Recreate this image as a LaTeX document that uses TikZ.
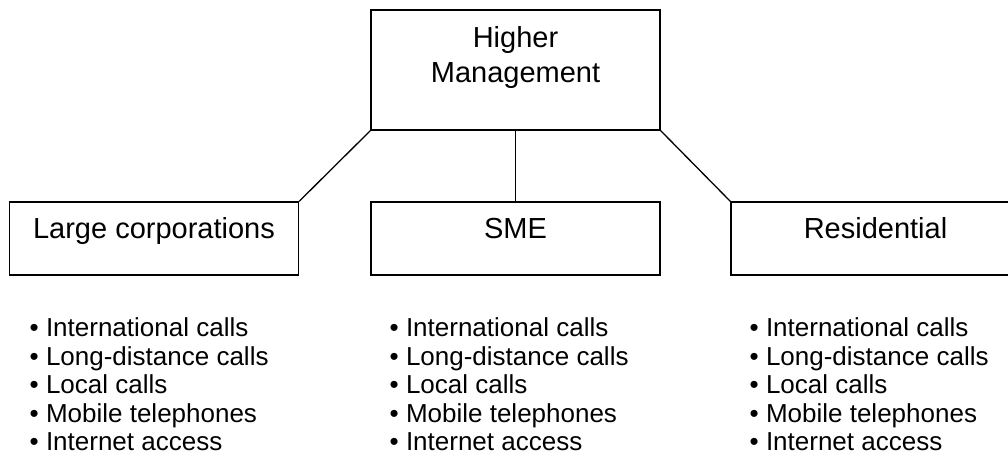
\documentclass[tikz,border=0pt]{standalone}
\usepackage{fontspec}
\setmainfont{Liberation Sans}
\begin{document}
\begin{tikzpicture}[x=1pt,y=-1pt,
  box/.style={draw=black,line width=1.3pt,rectangle,inner sep=0pt,minimum width=289pt,minimum height=73pt},
  topbox/.style={box,minimum height=120pt},
  boxtext/.style={anchor=base,inner sep=0pt,font=\fontsize{29}{34.5}\selectfont},
  item/.style={anchor=base west,inner sep=0pt,font=\fontsize{26}{28.5}\selectfont},
  link/.style={draw=black,line width=1.3pt}]
\useasboundingbox (0,0) rectangle (1008,460);
\clip (0,0) rectangle (1008,460);
\fill[white] (0,0) rectangle (1008,460);
% boxes
\node[topbox] (hm) at (515.5,70) {};
\node[box] (lc) at (154,238.5) {};
\node[box] (sme) at (515.5,238.5) {};
\node[box] (res) at (875.5,238.5) {};
% box texts
\node[boxtext] (hm1) at (515.5,47.5) {Higher};
\node[boxtext] (hm2) at (515.5,82) {Management};
\node[boxtext] (lct) at (154,238) {Large corporations};
\node[boxtext] (smet) at (515.5,238) {SME};
\node[boxtext] (rest) at (875.5,238) {Residential};
% connectors
\draw[link] (hm.south west) -- (lc.north east);
\draw[link] (hm.south) -- (sme.north);
\draw[link] (hm.south east) -- (res.north west);
% lists
\foreach \col/\x in {a/29.5,b/389.5,c/749.5}{
  \foreach \t [count=\i] in {International calls,Long-distance calls,Local calls,Mobile telephones,Internet access}{
    \node[item] (\col\i) at (\x,{308+28.5*\i}) {•\ \t};
  }
}
\end{tikzpicture}
\end{document}
